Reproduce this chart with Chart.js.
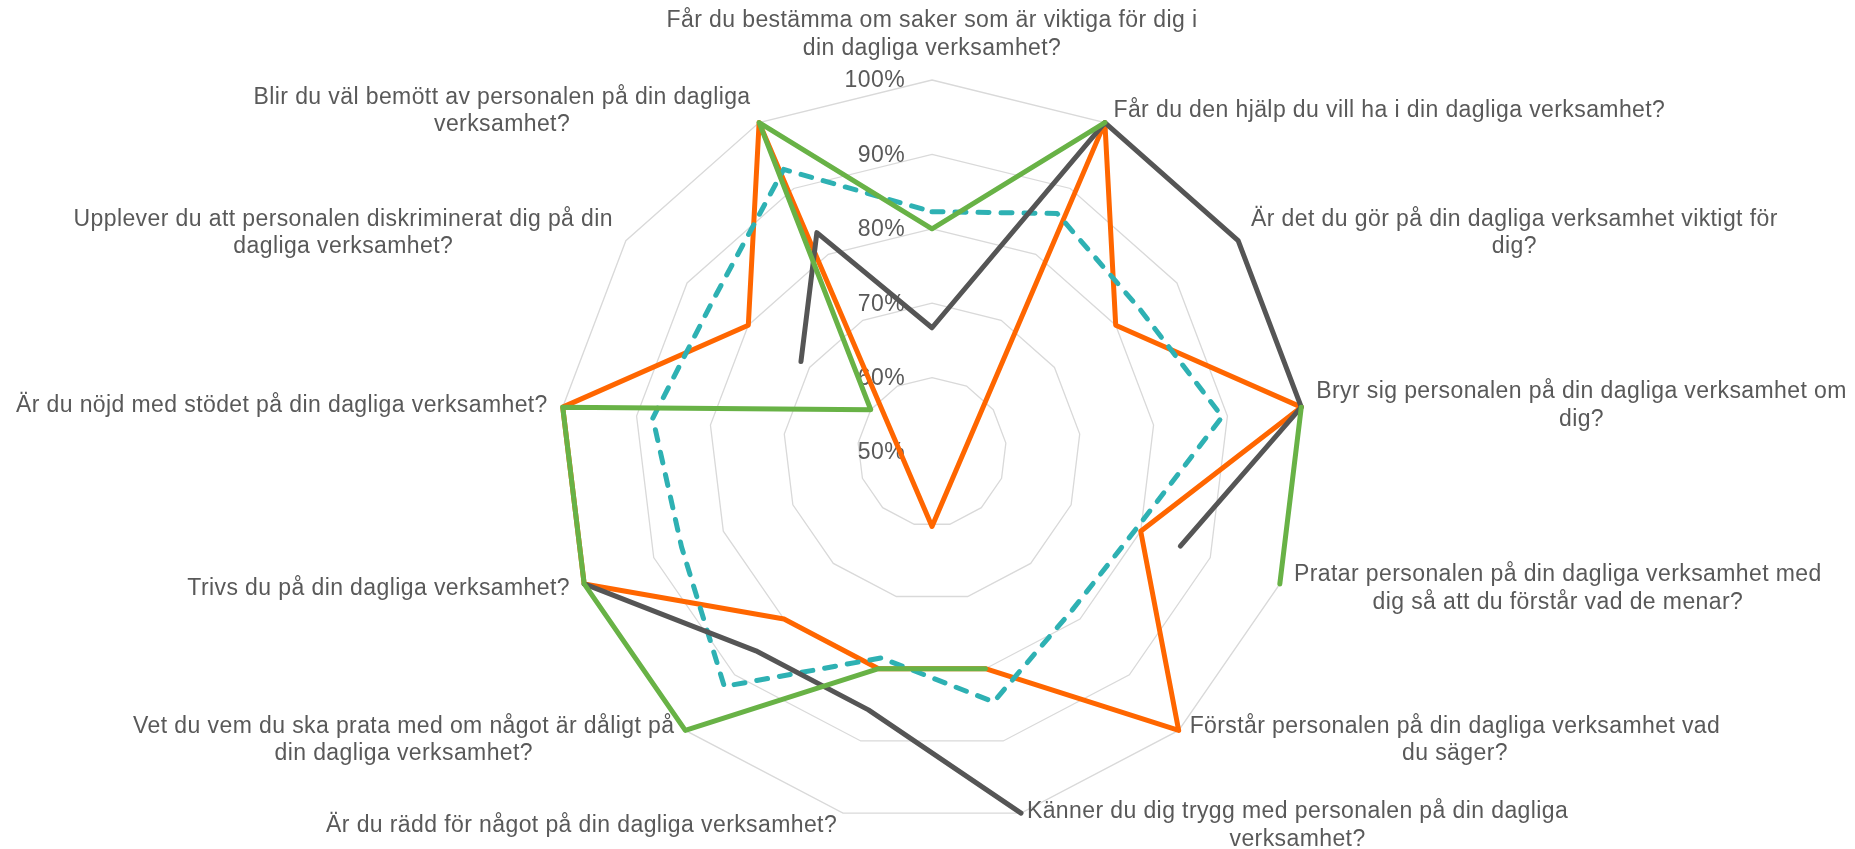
<!DOCTYPE html>
<html>
<head>
<meta charset="utf-8">
<script src="https://cdn.jsdelivr.net/npm/chart.js@4.4.1/dist/chart.umd.min.js"></script>
<style>
  html, body { margin: 0; padding: 0; background: #fff; }
  #wrap { width: 1855px; height: 849px; }
</style>
</head>
<body>
<div id="wrap"><canvas id="radar" width="1855" height="849"></canvas></div>
<script>
// categories, clockwise from the top (line breaks as in the picture)
var categories = [
  ["Får du bestämma om saker som är viktiga för dig i", "din dagliga verksamhet?"],
  ["Får du den hjälp du vill ha i din dagliga verksamhet?"],
  ["Är det du gör på din dagliga verksamhet viktigt för", "dig?"],
  ["Bryr sig personalen på din dagliga verksamhet om", "dig?"],
  ["Pratar personalen på din dagliga verksamhet med", "dig så att du förstår vad de menar?"],
  ["Förstår personalen på din dagliga verksamhet vad", "du säger?"],
  ["Känner du dig trygg med personalen på din dagliga", "verksamhet?"],
  ["Är du rädd för något på din dagliga verksamhet?"],
  ["Vet du vem du ska prata med om något är dåligt på", "din dagliga verksamhet?"],
  ["Trivs du på din dagliga verksamhet?"],
  ["Är du nöjd med stödet på din dagliga verksamhet?"],
  ["Upplever du att personalen diskriminerat dig på din", "dagliga verksamhet?"],
  ["Blir du väl bemött av personalen på din dagliga", "verksamhet?"]
];

var tickValues = [50, 60, 70, 80, 90, 100];

var greenValues  = [80, 100, null, 100, 100, null, 80, 80, 100, 100, 100, 60, 100];
var grayValues   = [66.7, 100, 100, 100, 85.7, null, 100, 85.7, 85.7, 100, null, 71.4, 83.3];
var tealValues   = [82.3, 86.2, 83.9, 89.3, 79.3, 78.4, 84.6, 78.5, 92.1, 86.0, 87.8, 85.8, 92.9];
var orangeValues = [40, 100, 80, 100, 80, 100, 80, 80, 80, 100, 100, 80, 100];

var textColor = "#595959";
var fontFace = "'Liberation Sans', Arial, sans-serif";

var labelPlugin = {
  id: "excelLabels",
  beforeDatasetsDraw: function (chart) {
    var ctx = chart.ctx;
    var scale = chart.scales.r;
    ctx.save();
    ctx.fillStyle = textColor;
    ctx.font = "23px " + fontFace;
    ctx.letterSpacing = "0.4px";

    // value labels left of the vertical axis
    ctx.textAlign = "right";
    ctx.textBaseline = "middle";
    tickValues.forEach(function (v) {
      var d = scale.getDistanceFromCenterForValue(v);
      ctx.fillText(v + "%", scale.xCenter - 27, scale.yCenter - d + 1);
    });

    // category labels
    var lineH = 27.5;
    ctx.textAlign = "center";
    chart.data.labels.forEach(function (lines, i) {
      var p = scale.getPointPosition(i, scale.drawingArea);
      var a = scale.getIndexAngle(i);
      var s = Math.sin(a), c = Math.cos(a);
      var w = 0;
      lines.forEach(function (l) { w = Math.max(w, ctx.measureText(l).width); });
      var h = lines.length * lineH;
      var cx, cy;
      if (Math.abs(s) < 0.05) {
        cx = p.x;
        cy = p.y - 18 - h / 2;
      } else {
        var gap = 3 + 12 * Math.abs(s);
        cx = s > 0 ? p.x + gap + w / 2 : p.x - gap - w / 2;
        cy = p.y - c * 13;
      }
      lines.forEach(function (l, j) {
        ctx.fillText(l, cx, cy - h / 2 + lineH * (j + 0.5));
      });
    });
    ctx.restore();
  }
};

function line(values, color, dash) {
  return {
    data: values,
    borderColor: color,
    backgroundColor: color,
    borderWidth: 5,
    borderDash: dash || [],
    borderCapStyle: "round",
    borderJoinStyle: "round",
    pointRadius: 0,
    pointHoverRadius: 0,
    fill: false,
    spanGaps: false
  };
}

new Chart(document.getElementById("radar"), {
  type: "radar",
  data: {
    labels: categories,
    datasets: [
      line(greenValues, "#68B246"),
      line(grayValues, "#555555"),
      line(tealValues, "#2EB1B3", [11, 12]),
      line(orangeValues, "#FF6600")
    ]
  },
  options: {
    responsive: false,
    animation: false,
    layout: { padding: { left: 560, top: 80, right: 551, bottom: 25 } },
    plugins: { legend: { display: false }, tooltip: { enabled: false } },
    scales: {
      r: {
        min: 50,
        max: 100,
        ticks: { stepSize: 10, display: false },
        grid: { color: "#D9D9D9", lineWidth: 1.3, circular: false },
        angleLines: { display: false },
        pointLabels: { display: false }
      }
    }
  },
  plugins: [labelPlugin]
});
</script>
</body>
</html>
